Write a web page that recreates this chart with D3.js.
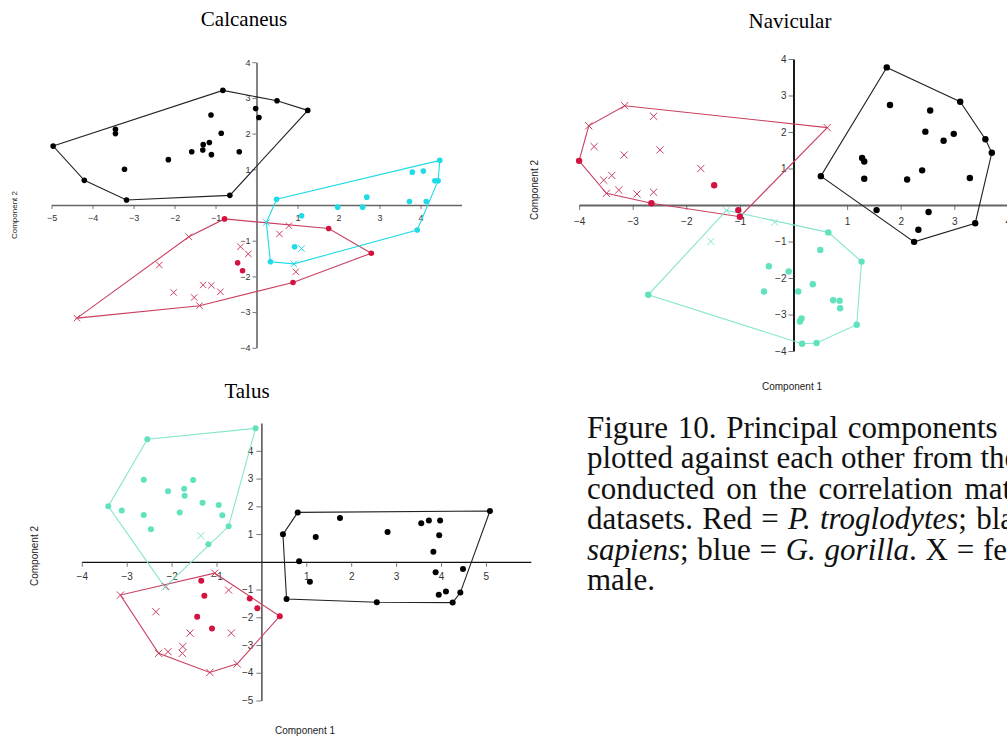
<!DOCTYPE html>
<html>
<head>
<meta charset="utf-8">
<script src="https://cdn.jsdelivr.net/npm/d3@7"></script>
<style>
  body { margin: 0; background: #fff; overflow: hidden; }
  .tick text { font-family: "Liberation Sans", Arial, sans-serif; }
</style>
</head>
<body>
<svg id="fig" width="1007" height="738"></svg>
<script>
// each point: [component 1, component 2, sex]  "f" = female (x), "m" = male (dot)

// Calcaneus
var calcBlack = [[-4.96,1.65,"m"],[-4.2,0.69,"m"],[-3.17,0.14,"m"],[-0.65,0.27,"m"],[-0.82,3.21,"m"],
  [-3.44,2.12,"m"],[-3.44,2.0,"m"],[-3.22,1.0,"m"],[-2.15,1.27,"m"],[-1.58,1.49,"m"],[-1.31,1.54,"m"],
  [-1.3,1.69,"m"],[-1.15,1.75,"m"],[-1.1,1.41,"m"],[-1.11,2.52,"m"],[-0.86,2.01,"m"],[-0.42,1.49,"m"],
  [0.5,2.92,"m"],[1.25,2.65,"m"],[-0.02,2.7,"m"],[0.06,2.45,"m"]];
var calcRed = [[-0.78,-0.39,"m"],[1.76,-0.66,"m"],[2.8,-1.35,"m"],[0.89,-2.17,"m"],[-0.46,-1.62,"m"],
  [-0.34,-1.84,"m"],[-1.39,-2.82,"f"],[-4.38,-3.17,"f"],[-2.37,-1.68,"f"],[-1.65,-0.89,"f"],[-0.39,-1.17,"f"],
  [-0.2,-1.37,"f"],[0.79,-0.58,"f"],[0.56,-0.81,"f"],[0.96,-1.87,"f"],[-2.02,-2.45,"f"],[-1.52,-2.59,"f"],
  [-1.3,-2.24,"f"],[-1.1,-2.25,"f"],[-0.88,-2.43,"f"]];
var calcCyan = [[0.49,0.16,"m"],[4.47,1.25,"m"],[3.8,0.92,"m"],[4.07,0.95,"m"],[4.35,0.68,"m"],[4.43,0.68,"m"],
  [2.69,0.22,"m"],[3.73,0.1,"m"],[4.14,0.1,"m"],[1.98,-0.06,"m"],[2.59,-0.06,"m"],[1.1,-0.3,"m"],
  [0.24,-0.49,"f"],[0.34,-1.59,"m"],[0.93,-1.17,"m"],[3.92,-0.7,"m"],[1.1,-1.22,"f"],[0.91,-1.65,"f"]];

// Navicular
var navBlack = [[1.74,3.77,"m"],[3.11,2.83,"m"],[3.58,1.8,"m"],[3.7,1.43,"m"],[3.39,-0.5,"m"],[2.25,-1.01,"m"],
  [0.51,0.79,"m"],[1.8,2.74,"m"],[2.55,2.59,"m"],[2.46,2.01,"m"],[2.8,1.76,"m"],[2.99,1.95,"m"],
  [1.28,1.29,"m"],[1.32,1.19,"m"],[1.32,0.72,"m"],[2.12,0.7,"m"],[2.4,0.95,"m"],[3.29,0.74,"m"],
  [1.55,-0.14,"m"],[2.52,-0.19,"m"],[2.33,-0.68,"m"]];
var navRed = [[-4.0,1.21,"m"],[-1.48,0.54,"m"],[-2.65,0.05,"m"],[-1.03,-0.14,"m"],[-1.0,-0.32,"m"],
  [-3.82,2.17,"f"],[-3.15,2.72,"f"],[-2.61,2.43,"f"],[-3.72,1.6,"f"],[-3.16,1.37,"f"],[-2.49,1.51,"f"],
  [-1.73,1.0,"f"],[-3.54,0.68,"f"],[-3.39,0.81,"f"],[-3.49,0.32,"f"],[-3.26,0.41,"f"],[-2.92,0.3,"f"],
  [-2.61,0.35,"f"],[0.63,2.12,"f"]];
var navCyan = [[-1.25,-0.15,"f"],[-0.35,-0.47,"f"],[-1.54,-1.0,"f"],[0.65,-0.75,"m"],[0.5,-1.23,"m"],
  [1.27,-1.55,"m"],[-0.46,-1.68,"m"],[-0.09,-1.82,"m"],[0.36,-2.17,"m"],[-0.55,-2.37,"m"],[0.09,-2.37,"m"],
  [0.74,-2.61,"m"],[0.86,-2.62,"m"],[0.87,-2.83,"m"],[0.15,-3.11,"m"],[0.12,-3.19,"m"],[1.18,-3.28,"m"],
  [0.16,-3.8,"m"],[0.43,-3.78,"m"],[-2.71,-2.46,"m"]];

// Talus
var talBlack = [[0.81,1.78,"m"],[0.48,0.99,"m"],[0.84,0.02,"m"],[1.08,-0.72,"m"],[0.56,-1.34,"m"],
  [2.57,-1.46,"m"],[4.26,-1.47,"m"],[4.43,-1.11,"m"],[4.11,-1.07,"m"],[3.95,-1.19,"m"],[4.49,-0.26,"m"],
  [3.88,-0.38,"m"],[3.83,0.36,"m"],[3.96,0.96,"m"],[3.98,1.49,"m"],[3.73,1.49,"m"],[3.56,1.39,"m"],
  [5.09,1.83,"m"],[1.75,1.58,"m"],[1.21,0.89,"m"],[2.81,1.07,"m"]];
var talRed = [[-3.14,-1.2,"f"],[-2.13,-0.89,"f"],[-1.04,-0.41,"f"],[-0.73,-1.02,"f"],[-2.35,-1.8,"f"],
  [-1.59,-2.57,"f"],[-0.67,-2.57,"f"],[-1.75,-3.05,"f"],[-1.76,-3.3,"f"],[-2.29,-3.3,"f"],[-2.08,-3.24,"f"],
  [-1.15,-3.99,"f"],[-0.54,-3.68,"f"],[-1.34,-0.68,"m"],[-1.27,-1.22,"m"],[-0.26,-1.32,"m"],
  [-0.09,-1.67,"m"],[0.41,-1.96,"m"],[-1.43,-1.98,"m"],[-1.1,-2.4,"m"]];
var talCyan = [[-0.13,4.81,"m"],[-2.54,4.42,"m"],[-3.41,2.0,"m"],[-3.11,1.85,"m"],[-2.62,2.96,"m"],
  [-2.62,1.69,"m"],[-2.46,1.17,"m"],[-2.08,2.54,"m"],[-1.72,2.63,"m"],[-1.71,2.38,"m"],[-1.52,2.95,"m"],
  [-1.82,1.78,"m"],[-1.31,2.13,"m"],[-0.95,2.05,"m"],[-0.87,1.68,"m"],[-0.73,1.28,"m"],[-1.18,0.63,"m"],
  [-1.35,0.94,"f"],[-2.15,-0.91,"f"]];

// tick labels
var calcXTicks = [-5,-4,-3,-2,-1,1,2,3,4];
var calcYTicks = [-4,-3,-2,-1,1,2,3,4];
var navXTicks = [-4,-3,-2,-1,1,2,3,4];
var navYTicks = [-4,-3,-2,-1,1,2,3,4];
var talXTicks = [-4,-3,-2,-1,1,2,3,4,5];
var talYTicks = [-5,-4,-3,-2,-1,1,2,3,4];

// caption runs off the right edge of the page, as in the source figure
var captionLines = [
  [["Figure 10. Principal components", false]],
  [["plotted against each other from the", false]],
  [["conducted on the correlation matrices", false]],
  [["datasets. Red = ", false], ["P. troglodytes", true], ["; black = ", false], ["H.", true]],
  [["sapiens", true], ["; blue = ", false], ["G. gorilla", true], [". X = female; O =", false]],
  [["male.", false]]
];
var captionSpacing = [2, 0, 4, 1.5, 1, 0];

var RED_PT = "#d3123f", RED_LN = "#c9405f";
var CYAN = "#1fdbe6", MINT_PT = "#5fe2bd", MINT_LN = "#86e6cc";

var svg = d3.select("#fig");

function drawPanel(p) {
  var g = svg.append("g");
  var x = d3.scaleLinear().domain(p.xDomain).range(p.xRange);
  var y = d3.scaleLinear().domain(p.yDomain).range(p.yRange);

  // axes
  var xAxis = d3.axisBottom(x).tickValues(p.xTicks).tickSize(p.tick).tickSizeOuter(0)
    .tickPadding(p.xPad).tickFormat(d3.format("d"));
  var yAxis = d3.axisLeft(y).tickValues(p.yTicks).tickSize(p.tick).tickSizeOuter(0)
    .tickPadding(p.yPad).tickFormat(d3.format("d"));

  var gx = g.append("g").attr("transform", "translate(0," + y(0) + ")").call(xAxis);
  var gy = g.append("g").attr("transform", "translate(" + x(0) + ",0)").call(yAxis);
  gx.select(".domain").attr("stroke", p.xAxisColor).attr("stroke-width", p.axisWidth);
  gy.select(".domain").attr("stroke", p.yAxisColor).attr("stroke-width", p.axisWidth);
  [gx, gy].forEach(function(a) {
    a.selectAll(".tick line").attr("stroke", "#555").attr("stroke-width", 0.8);
    a.selectAll(".tick text").attr("fill", "#333").style("font-size", p.fontSize + "px");
  });

  // convex hulls then points
  p.groups.forEach(function(grp) {
    var pts = grp.data.map(function(d) { return [x(d[0]), y(d[1])]; });
    var hull = d3.polygonHull(pts);
    g.append("path")
      .attr("d", "M" + hull.join("L") + "Z")
      .attr("fill", "none")
      .attr("stroke", grp.line)
      .attr("stroke-width", 1.1);
  });
  p.groups.forEach(function(grp) {
    grp.data.forEach(function(d) {
      var cx = x(d[0]), cy = y(d[1]);
      if (d[2] === "m") {
        g.append("circle").attr("cx", cx).attr("cy", cy).attr("r", p.r).attr("fill", grp.pt);
      } else {
        var s = p.xs;
        g.append("path")
          .attr("d", "M" + (cx - s) + "," + (cy - s) + "L" + (cx + s) + "," + (cy + s) +
                     "M" + (cx - s) + "," + (cy + s) + "L" + (cx + s) + "," + (cy - s))
          .attr("stroke", grp.line).attr("stroke-width", 1).attr("fill", "none");
      }
    });
  });

  // titles
  svg.append("text").attr("x", p.title[1]).attr("y", p.title[2]).attr("text-anchor", "middle")
    .style("font-family", "'Liberation Serif', 'Times New Roman', serif").style("font-size", "21px")
    .text(p.title[0]);
  p.labels.forEach(function(l) {
    var t = svg.append("text").attr("text-anchor", "middle")
      .style("font-family", "'Liberation Sans', Arial, sans-serif").style("font-size", l[3] + "px")
      .attr("fill", "#222").text(l[0]);
    if (l[4]) t.attr("transform", "translate(" + l[1] + "," + l[2] + ") rotate(-90)");
    else t.attr("x", l[1]).attr("y", l[2]);
  });
}

drawPanel({
  xDomain: [-5, 5], xRange: [51.5, 461.5], yDomain: [-4, 4], yRange: [347.8, 62.2],
  xTicks: calcXTicks, yTicks: calcYTicks, tick: 4, xPad: 6, yPad: 2, fontSize: 9,
  xAxisColor: "#666", yAxisColor: "#666", axisWidth: 1.6, r: 2.8, xs: 3.2,
  groups: [{data: calcBlack, pt: "#000", line: "#222"},
           {data: calcRed, pt: RED_PT, line: RED_LN},
           {data: calcCyan, pt: CYAN, line: CYAN}],
  title: ["Calcaneus", 244, 26],
  labels: [["Component 2", 17, 215, 8, true]]
});

drawPanel({
  xDomain: [-4, 4], xRange: [579.1, 1007.9], yDomain: [-4, 4], yRange: [351, 59],
  xTicks: navXTicks, yTicks: navYTicks, tick: 5, xPad: 8, yPad: 2, fontSize: 10,
  xAxisColor: "#666", yAxisColor: "#000", axisWidth: 1.8, r: 3.2, xs: 3.6,
  groups: [{data: navBlack, pt: "#000", line: "#222"},
           {data: navRed, pt: RED_PT, line: RED_LN},
           {data: navCyan, pt: MINT_PT, line: MINT_LN}],
  title: ["Navicular", 790, 28],
  labels: [["Component 2", 538, 190, 10, true], ["Component 1", 792, 390, 10, false]]
});

drawPanel({
  xDomain: [-4, 6], xRange: [81.8, 530.8], yDomain: [-5, 5], yRange: [700.5, 423.1],
  xTicks: talXTicks, yTicks: talYTicks, tick: 5, xPad: 6, yPad: 3, fontSize: 10,
  xAxisColor: "#111", yAxisColor: "#333", axisWidth: 1.3, r: 3, xs: 3.6,
  groups: [{data: talBlack, pt: "#000", line: "#222"},
           {data: talRed, pt: RED_PT, line: RED_LN},
           {data: talCyan, pt: MINT_PT, line: MINT_LN}],
  title: ["Talus", 247, 398],
  labels: [["Component 2", 38, 556, 10, true], ["Component 1", 305, 734, 10, false]]
});

// caption
captionLines.forEach(function(line, i) {
  var t = svg.append("text")
    .attr("x", 587).attr("y", 438 + i * 30.4)
    .style("font-family", "'Liberation Serif', 'Times New Roman', serif")
    .style("font-size", "31px").style("word-spacing", captionSpacing[i] + "px")
    .attr("fill", "#111");
  line.forEach(function(seg) {
    t.append("tspan").text(seg[0]).style("font-style", seg[1] ? "italic" : "normal");
  });
});
</script>
</body>
</html>
